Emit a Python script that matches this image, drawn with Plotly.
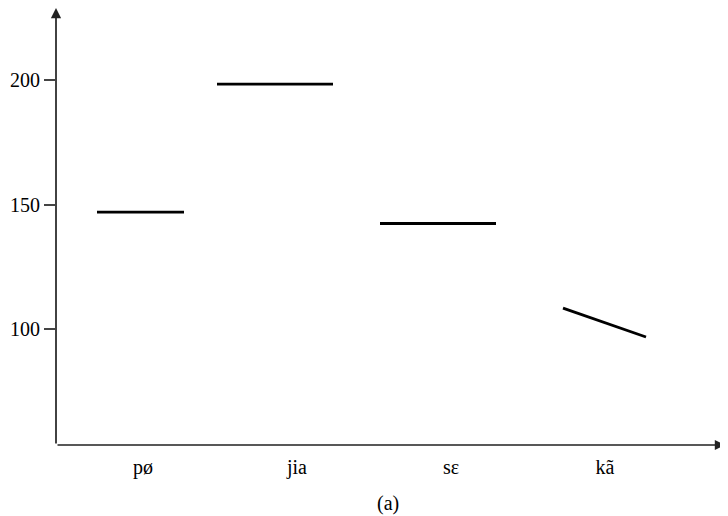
import plotly.graph_objects as go

# Data (pitch in Hz, x in arbitrary time units from the y-axis)
syllables = ["pø", "jia", "sɛ", "kã"]
label_x = [87, 241, 395, 549]
seg_x_start = [41, 161, 324, 507]
seg_x_end = [128, 277, 440, 590]
seg_y_start = [147, 198.4, 142.4, 108.4]
seg_y_end = [147, 198.4, 142.4, 96.8]
y_ticks = [100, 150, 200]

X_MAX = 669
Y_MIN, Y_MAX = 53.4, 229

fig = go.Figure()
for i in range(len(syllables)):
    fig.add_trace(go.Scatter(
        x=[seg_x_start[i], seg_x_end[i]],
        y=[seg_y_start[i], seg_y_end[i]],
        mode="lines",
        line=dict(color="black", width=2.8),
        showlegend=False,
        hoverinfo="skip",
    ))

FONT = "Liberation Serif, Times New Roman, serif"

# axis arrows
fig.add_annotation(x=X_MAX, y=Y_MIN, ax=0, ay=Y_MIN, xref="x", yref="y",
                   axref="x", ayref="y", showarrow=True, arrowhead=2,
                   arrowsize=1.2, arrowwidth=1.7, arrowcolor="#222", text="")
fig.add_annotation(x=0, y=Y_MAX, ax=0, ay=Y_MIN, xref="x", yref="y",
                   axref="x", ayref="y", showarrow=True, arrowhead=2,
                   arrowsize=1.2, arrowwidth=1.7, arrowcolor="#222", text="")

fig.add_annotation(x=332, y=-0.135, xref="x", yref="paper", yanchor="middle",
                   text="(a)", showarrow=False,
                   font=dict(family=FONT, size=20, color="black"))

fig.update_layout(
    width=720, height=508,
    margin=dict(l=48, r=3, t=0, b=71),
    plot_bgcolor="white", paper_bgcolor="white",
    font=dict(family=FONT, size=20, color="black"),
    xaxis=dict(range=[0, X_MAX], tickvals=label_x, ticktext=syllables,
               showgrid=False, zeroline=False, showline=False,
               ticks="outside", ticklen=4, tickcolor="rgba(0,0,0,0)",
               tickfont=dict(family=FONT, size=20, color="black")),
    yaxis=dict(range=[Y_MIN, Y_MAX], tickvals=y_ticks,
               showgrid=False, zeroline=False, showline=False,
               ticks="outside", ticklen=11, tickwidth=1.6, tickcolor="#444",
               tickfont=dict(family=FONT, size=20, color="black")),
)

fig.write_html("out.html")
